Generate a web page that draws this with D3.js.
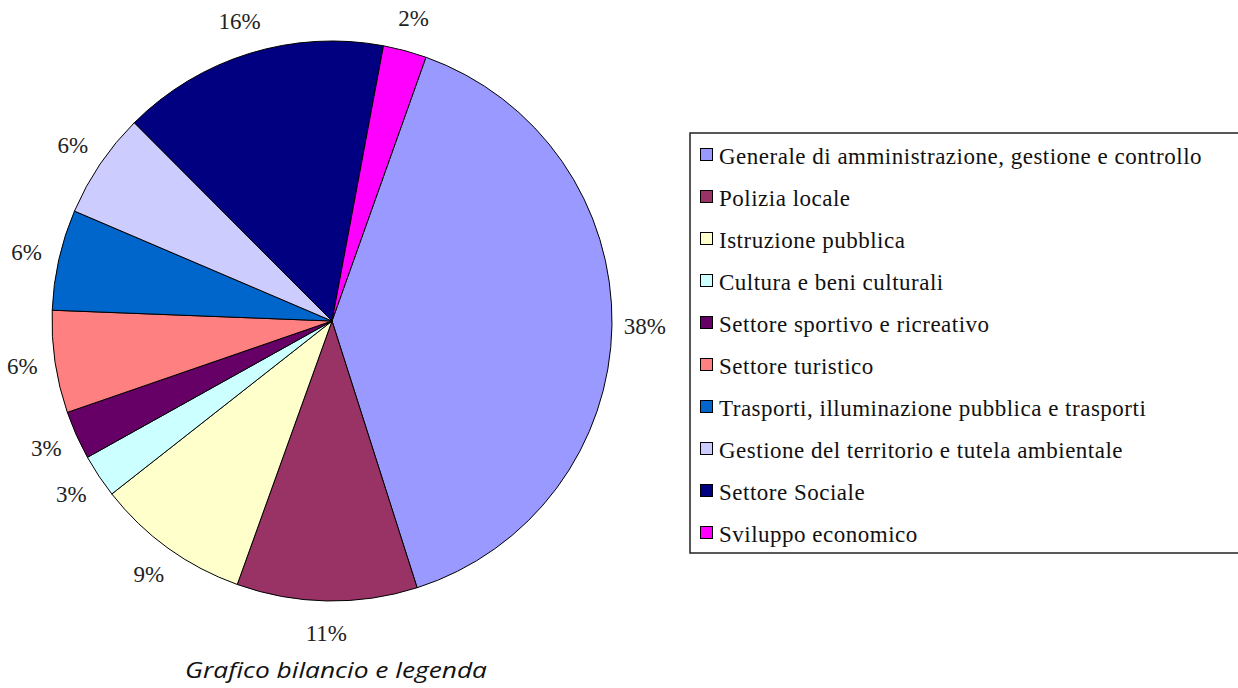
<!DOCTYPE html>
<html>
<head>
<meta charset="utf-8">
<script src="https://cdn.jsdelivr.net/npm/d3@7"></script>
<style>
  html, body { margin: 0; padding: 0; background: #fff; }
  svg { display: block; }
</style>
</head>
<body>
<svg id="chart" width="1238" height="688"></svg>
<script>
// categories in legend order (clockwise in the pie)
const categories = [
    "Generale di amministrazione, gestione e controllo",
    "Polizia locale",
    "Istruzione pubblica",
    "Cultura e beni culturali",
    "Settore sportivo e ricreativo",
    "Settore turistico",
    "Trasporti, illuminazione pubblica e trasporti",
    "Gestione del territorio e tutela ambientale",
    "Settore Sociale",
    "Sviluppo economico"
];

// slice sizes
const shares = [39.6, 10.4, 8.9, 2.5, 2.8, 5.9, 5.8, 6.1, 15.4, 2.5];

// percentage labels as printed next to each slice
const pctLabels = ["38%", "11%", "9%", "3%", "3%", "6%", "6%", "6%", "16%", "2%"];

const sliceColors = ["#9999ff", "#993366", "#ffffcc", "#ccffff", "#660066",
    "#ff8080", "#0066cc", "#ccccff", "#000080", "#ff00ff"];

const svg = d3.select("#chart");

const pieCenter = { x: 332, y: 321 },
    pieRadius = 280,
    labelRadius = 313;

const startDeg = 19.6;
const startAngle = startDeg * Math.PI / 180;

const pie = d3.pie()
    .sort(null)
    .value(d => d.value)
    .startAngle(startAngle)
    .endAngle(startAngle + 2 * Math.PI);

const rows = categories.map((c, i) => ({ name: c, value: shares[i], label: pctLabels[i], color: sliceColors[i] }));
const arcs = pie(rows);

const arc = d3.arc().innerRadius(0).outerRadius(pieRadius);
const labelArc = d3.arc().innerRadius(labelRadius).outerRadius(labelRadius);

const pieG = svg.append("g")
    .attr("transform", `translate(${pieCenter.x},${pieCenter.y})`);

pieG.selectAll("path.slice")
    .data(arcs)
    .enter()
    .append("path")
    .attr("class", "slice")
    .attr("d", arc)
    .attr("fill", d => d.data.color)
    .attr("stroke", "#000")
    .attr("stroke-width", 1)
    .attr("stroke-linejoin", "round");

pieG.selectAll("text.pct")
    .data(arcs)
    .enter()
    .append("text")
    .attr("class", "pct")
    .attr("x", d => labelArc.centroid(d)[0])
    .attr("y", d => labelArc.centroid(d)[1])
    .attr("text-anchor", "middle")
    .attr("dominant-baseline", "central")
    .attr("font-family", "'Liberation Serif', 'Times New Roman', serif")
    .attr("font-size", "23px")
    .attr("fill", "#222")
    .text(d => d.data.label);

// legend box (runs off the right edge like the original)
const legendBox = { x: 690, y: 133, w: 560, h: 420 };

const legendG = svg.append("g");

legendG.append("rect")
    .attr("x", legendBox.x)
    .attr("y", legendBox.y)
    .attr("width", legendBox.w)
    .attr("height", legendBox.h)
    .attr("fill", "#fff")
    .attr("stroke", "#222")
    .attr("stroke-width", 1.5);

const rowY = d3.scalePoint()
    .domain(categories)
    .range([155, 533]);

const item = legendG.selectAll("g.item")
    .data(rows)
    .enter()
    .append("g")
    .attr("class", "item")
    .attr("transform", d => `translate(0,${rowY(d.name)})`);

item.append("rect")
    .attr("x", 700.5)
    .attr("y", -6.5)
    .attr("width", 12)
    .attr("height", 12)
    .attr("fill", d => d.color)
    .attr("stroke", "#000")
    .attr("stroke-width", 1);

item.append("text")
    .attr("x", 719)
    .attr("y", 1)
    .attr("dominant-baseline", "central")
    .attr("font-family", "'Liberation Serif', 'Times New Roman', serif")
    .attr("font-size", "23px")
    .attr("letter-spacing", "0.5px")
    .attr("fill", "#111")
    .text(d => d.name);

// caption under the pie
svg.append("text")
    .attr("x", 185)
    .attr("y", 678)
    .attr("font-family", "'Open Sans', 'Liberation Sans', sans-serif")
    .attr("font-style", "italic")
    .attr("font-size", "22px")
    .attr("textLength", 302)
    .attr("lengthAdjust", "spacingAndGlyphs")
    .attr("fill", "#111")
    .text("Grafico bilancio e legenda");
</script>
</body>
</html>
